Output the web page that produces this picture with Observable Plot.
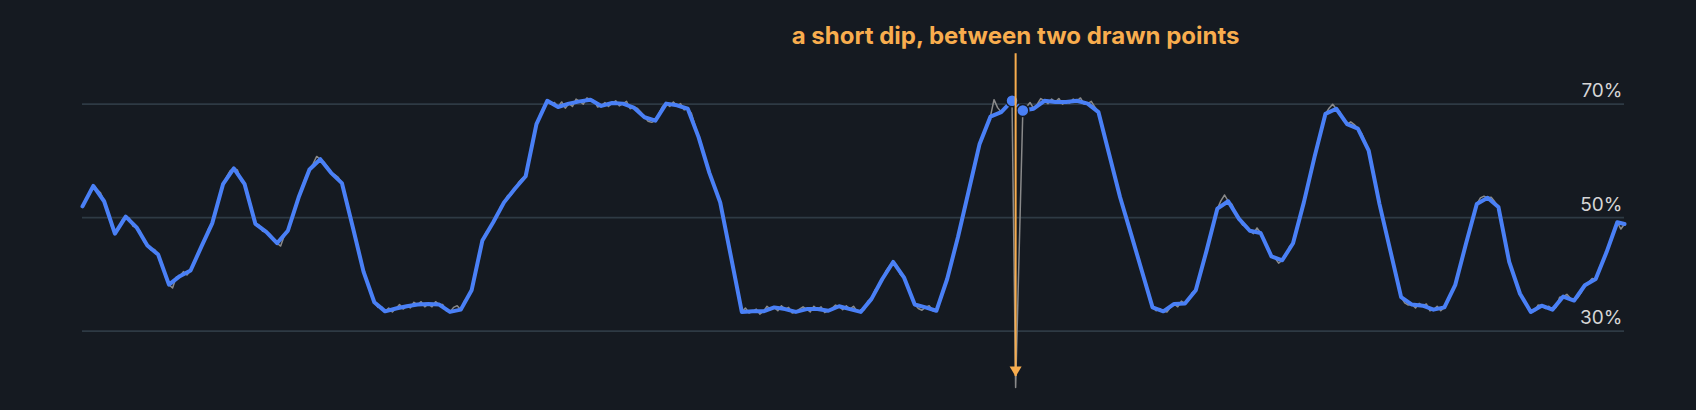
<!DOCTYPE html>
<html>
<head>
<meta charset="utf-8">
<script src="https://cdn.jsdelivr.net/npm/d3@7"></script>
<script src="https://cdn.jsdelivr.net/npm/@observablehq/plot@0.6"></script>
<style>
  html, body { margin: 0; padding: 0; background: #151a21; }
  #chart svg { display: block; }
</style>
</head>
<body>
<div id="chart"></div>
<script>
// Raw signal (percent), one value per sample index. Every 3rd sample (plus the last) is what the blue line draws.
const raw = [
  52.0, 53.5, 54.1,  55.6, 55.0, 54.4,  52.9, 51.4, 48.6,  47.2, 47.9, 49.6,  50.2, 49.9, 48.5,
  48.3, 47.6, 45.8,  45.1, 44.3, 44.4,  43.5, 42.0, 39.6,  38.2, 37.6, 39.5,  39.7, 40.5, 39.9,
  40.7, 42.4, 43.2,  44.9, 46.0, 48.1,  49.0, 51.6, 53.3,  55.9, 57.2, 58.3,  58.7, 58.4, 56.5,
  55.9, 53.3, 51.5,  48.9, 48.7, 47.6,  47.5, 47.1, 46.4,  45.5, 45.0, 46.8,  47.7, 49.4, 51.9,
  53.6, 55.6, 57.3,  58.5, 59.5, 60.8,  60.3, 59.8, 59.0,  57.9, 57.6, 57.1,  56.1, 53.8, 50.7,
  48.4, 46.1, 42.8,  40.5, 39.0, 36.6,  35.1, 34.2, 34.3,  33.5, 34.1, 33.4,  34.0, 34.7, 33.9,
  34.4, 34.1, 35.1,  34.7, 35.2, 34.3,  34.8, 34.3, 35.2,  34.7, 34.7, 33.6,  33.4, 34.2, 34.5,
  33.8, 35.3, 35.9,  37.2, 40.4, 42.8,  46.0, 47.4, 47.9,  49.2, 50.1, 51.9,  52.7, 53.9, 54.0,
  55.1, 56.2, 56.9,  57.3, 60.7, 63.2,  66.5, 68.2, 69.0,  70.6, 70.0, 70.3,  69.5, 70.4, 69.3,
  70.1, 69.6, 70.9,  70.5, 70.0, 71.1,  70.8, 70.6, 69.5,  69.7, 70.3, 69.6,  70.2, 70.6, 69.7,
  70.1, 70.5, 69.2,  69.4, 69.3, 68.6,  67.7, 67.0, 66.8,  67.1, 68.4, 69.6,  70.1, 69.6, 70.4,
  69.8, 70.1, 69.0,  69.2, 68.4, 66.3,  64.2, 62.5, 59.7,  57.9, 55.9, 54.7,  52.7, 49.8, 46.0,
  43.1, 39.6, 36.9,  33.4, 34.1, 33.2,  33.5, 33.9, 33.0,  33.5, 34.4, 33.8,  34.2, 33.6, 34.5,
  33.9, 34.2, 33.2,  33.4, 33.9, 34.3,  33.9, 33.4, 34.4,  33.9, 34.3, 33.3,  33.6, 34.0, 34.6,
  34.4, 33.8, 34.5,  33.9, 34.4, 33.5,  33.4, 33.8, 35.3,  35.7, 37.3, 37.8,  39.2, 40.6, 41.5,
  42.2, 41.6, 40.0,  39.5, 38.1, 36.0,  34.7, 34.0, 33.7,  34.2, 34.5, 33.6,  33.6, 35.2, 37.6,
  39.2, 41.9, 44.3,  46.6, 49.6, 51.8,  54.8, 57.8, 60.0,  63.0, 64.9, 66.0,  67.8, 70.8, 69.4,
  68.6, 69.1, 70.2,  70.6, 20.1, 44.5,  68.9, 69.5, 70.3,  69.2, 70.0, 71.0,  70.6, 70.1, 70.9,
  70.4, 71.0, 70.0,  70.4, 70.2, 70.9,  70.6, 71.1, 70.0,  70.1, 70.5, 69.5,  68.6, 66.4, 63.3,
  61.1, 58.9, 55.8,  53.6, 51.8, 49.0,  47.2, 45.3, 42.6,  40.7, 38.2, 36.8,  34.2, 33.6, 34.0,
  33.5, 33.4, 34.2,  34.8, 34.3, 35.3,  34.9, 35.4, 36.8,  37.2, 39.8, 41.6,  44.2, 47.0, 48.8,
  51.6, 53.0, 54.0,  52.9, 52.4, 51.0,  49.8, 48.7, 48.6,  47.7, 47.2, 48.2,  47.3, 46.2, 44.3,
  43.2, 42.9, 42.0,  42.5, 43.2, 44.9,  45.5, 48.2, 50.0,  52.7, 55.7, 57.8,  60.8, 63.6, 65.5,
  68.3, 69.3, 70.0,  69.2, 68.6, 67.1,  66.5, 66.9, 66.4,  65.7, 64.9, 63.4,  61.8, 59.0, 55.2,
  52.4, 50.0, 46.6,  44.2, 41.2, 39.0,  36.0, 35.0, 34.6,  34.7, 34.1, 34.9,  34.5, 34.8, 33.6,
  33.8, 34.4, 33.6,  34.2, 35.2, 37.1,  38.1, 40.8, 42.7,  45.4, 48.0, 49.8,  52.4, 53.5, 53.8,
  53.5, 53.6, 52.8,  51.9, 49.0, 45.1,  42.2, 40.6, 38.2,  36.6, 35.8, 34.2,  33.4, 33.5, 34.6,
  34.5, 34.0, 34.4,  33.8, 34.2, 36.0,  36.1, 36.5, 35.8,  35.4, 35.9, 36.8,  38.1, 38.6, 39.3,
  39.2, 41.1, 42.0,  43.9, 46.0, 47.1,  49.2, 48.0, 48.9
];

const stride = 3;                       // the blue line keeps every 3rd sample
const gridTicks = [30, 50, 70];          // percent gridlines
const highlightedSamples = [258, 261];   // the two drawn points around the dip
const annotation = {t: 259, label: "a short dip, between two drawn points", from: 78.9, to: 22.0};

const orange = "#f8ad4e";
const blue = "#4a80f6";
const bg = "#151a21";

const data = raw.map((v, t) => ({t, v}));
const last = raw.length - 1;
const drawn = data.filter(d => d.t % stride === 0 || d.t === last);
const marked = data.filter(d => highlightedSamples.includes(d.t));

const downTriangle = {
  draw(context, size) {
    const r = Math.sqrt(size / Math.PI);
    const h = r * 10 / 6;
    context.moveTo(-r, -h);
    context.lineTo(r, -h);
    context.lineTo(0, 0);
    context.closePath();
  }
};

const chart = Plot.plot({
  width: 1696,
  height: 410,
  marginLeft: 82,
  marginRight: 72,
  marginTop: 0,
  marginBottom: 0,
  x: {domain: [0, last], axis: null},
  y: {domain: [16.03, 88.27], axis: null},
  style: {background: bg, color: "#d6d6d6", fontFamily: "Inter, 'Noto Sans', sans-serif", overflow: "visible"},
  marks: [
    Plot.ruleY(gridTicks, {stroke: "#2e3a44", strokeWidth: 1.7}),
    Plot.text(gridTicks, {
      y: d => d, text: d => `${d}%`, frameAnchor: "right", textAnchor: "end",
      dx: -2, dy: -13, fontSize: 19, fill: "#d6d6d6"
    }),
    Plot.line(data, {x: "t", y: "v", stroke: "#8a8a8a", strokeWidth: 1.5}),
    Plot.line(drawn, {x: "t", y: "v", stroke: blue, strokeWidth: 4, strokeLinejoin: "round", strokeLinecap: "round"}),
    Plot.dot(marked, {x: "t", y: "v", r: 6, fill: blue, stroke: bg, strokeWidth: 1.5}),
    Plot.ruleX([annotation], {x: "t", y1: "from", y2: "to", stroke: orange, strokeWidth: 2}),
    Plot.dot([annotation], {x: "t", y: "to", symbol: downTriangle, r: 6, fill: orange, stroke: "none"}),
    Plot.text([annotation], {
      x: "t", frameAnchor: "top", lineAnchor: "middle", dy: 36, text: "label",
      fontSize: 24, fontWeight: 700, fill: orange
    })
  ]
});

document.getElementById("chart").appendChild(chart);
</script>
</body>
</html>
